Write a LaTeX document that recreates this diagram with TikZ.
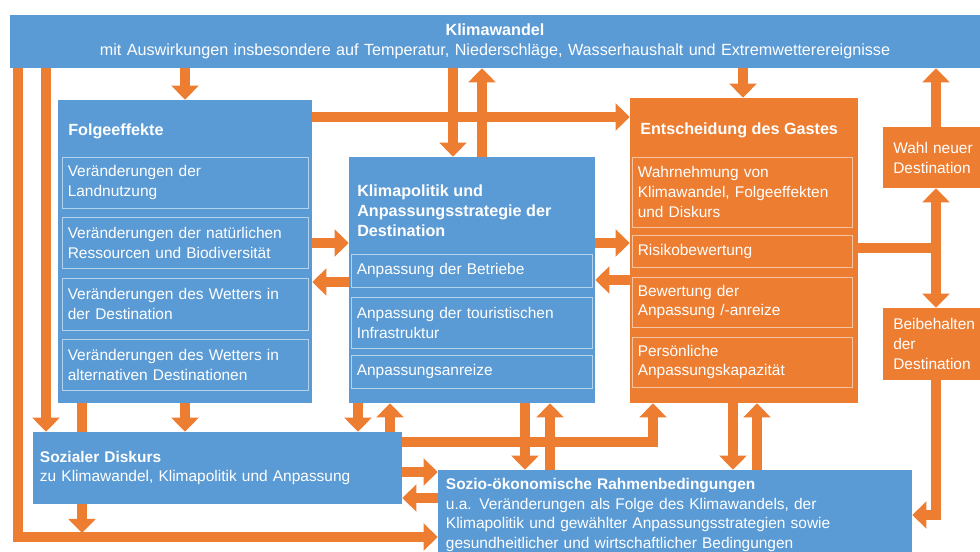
\documentclass[tikz,border=0pt]{standalone}
\usepackage{fontspec}
\setmainfont{Liberation Sans}
\usetikzlibrary{arrows.meta}

\definecolor{klimablue}{RGB}{91,155,213}
\definecolor{gastorange}{RGB}{237,125,49}

\tikzset{
    bluebox/.style={fill=klimablue, text=white, inner sep=0pt, inner xsep=0.15cm, align=left,
        font=\fontsize{11pt}{14.2pt}\selectfont},
    orangebox/.style={bluebox, fill=gastorange},
    subblue/.style={bluebox, draw=klimablue!45!white, line width=0.7pt, inner xsep=0.12cm},
    suborange/.style={orangebox, draw=gastorange!45!white, line width=0.7pt, inner xsep=0.12cm},
    boxtitle/.style={text=white, inner sep=0pt, align=left, anchor=west,
        font=\fontsize{11.5pt}{14.2pt}\selectfont\bfseries},
    flow/.style={draw=gastorange, line width=7pt},
    arr/.style={flow, -{Triangle[width=19pt,length=10pt]}}
}

\begin{document}
\begin{tikzpicture}[x=0.025cm, y=-0.025cm]
        \useasboundingbox (0,0) rectangle (980,552);

        \node[bluebox, align=center, text width=23.95cm, minimum height=1.325cm,
            font=\fontsize{11.5pt}{14.2pt}\selectfont] (klima) at (495,41.5)
            {\textbf{Klimawandel}\\mit Auswirkungen insbesondere auf Temperatur, Niederschläge, Wasserhaushalt und Extremwetterereignisse};

        \node[bluebox, minimum width=6.35cm, minimum height=7.575cm] (folge) at (185,251.5) {};
        \node[boxtitle] (folgetitle) at (68,131) {Folgeeffekte};
        \node[subblue, text width=5.885cm, minimum height=1.275cm] (f1) at (185.5,182.5) {Veränderungen der\\Landnutzung};
        \node[subblue, text width=5.885cm, minimum height=1.275cm] (f2) at (185.5,242.5) {Veränderungen der natürlichen\\Ressourcen und Biodiversität};
        \node[subblue, text width=5.885cm, minimum height=1.3cm] (f3) at (185.5,304) {Veränderungen des Wetters in\\der Destination};
        \node[subblue, text width=5.885cm, minimum height=1.275cm] (f4) at (185.5,364.5) {Veränderungen des Wetters in\\alternativen Destinationen};

        \node[bluebox, minimum width=6.15cm, minimum height=6.15cm] (kpol) at (472,280) {};
        \node[boxtitle] (kpoltitle) at (357,210.5) {Klimapolitik und\\Anpassungsstrategie der\\Destination};
        \node[subblue, text width=5.76cm, minimum height=0.825cm] (k1) at (472,270.5) {Anpassung der Betriebe};
        \node[subblue, text width=5.76cm, minimum height=1.275cm] (k2) at (472,322.5) {Anpassung der touristischen\\Infrastruktur};
        \node[subblue, text width=5.76cm, minimum height=0.825cm] (k3) at (472,371.5) {Anpassungsanreize};

        \node[orangebox, minimum width=5.7cm, minimum height=7.625cm] (gast) at (744,250.5) {};
        \node[boxtitle] (gasttitle) at (640,130) {Entscheidung des Gastes};
        \node[suborange, text width=5.235cm, minimum height=1.75cm] (g1) at (742.5,192) {Wahrnehmung von\\Klimawandel, Folgeeffekten\\und Diskurs};
        \node[suborange, text width=5.235cm, minimum height=0.8cm] (g2) at (742.5,251) {Risikobewertung};
        \node[suborange, text width=5.235cm, minimum height=1.25cm] (g3) at (742.5,302) {Bewertung der\\Anpassung /-anreize};
        \node[suborange, text width=5.235cm, minimum height=1.25cm] (g4) at (742.5,362) {Persönliche\\Anpassungskapazität};

        \node[orangebox, anchor=west, inner xsep=0.25cm, text width=2.15cm, minimum height=1.525cm] (wahl) at (883,157.5) {Wahl neuer\\Destination};
        \node[orangebox, anchor=west, inner xsep=0.25cm, text width=2.15cm, minimum height=1.8cm] (beib) at (883,344) {Beibehalten\\der\\Destination};

        \node[bluebox, inner xsep=0.175cm, text width=8.875cm, minimum height=1.8cm] (sozd) at (217.5,468)
            {\textbf{Sozialer Diskurs}\\zu Klimawandel, Klimapolitik und Anpassung};
        \node[bluebox, inner xsep=0.2cm, text width=11.45cm, minimum height=2.25cm] (sozoek) at (675,515)
            {\textbf{Sozio-ökonomische Rahmenbedingungen}\\u.a. Veränderungen als Folge des Klimawandels, der\\Klimapolitik und gewählter Anpassungsstrategien sowie\\gesundheitlicher und wirtschaftlicher Bedingungen};

        \coordinate (split) at (936,248);
        \coordinate (diskend) at (82,533);

        \draw[arr] (klima.south -| folge.north) -- (folge.north);
        \draw[arr] (klima.south -| 453,0) -- (kpol.north -| 453,0);
        \draw[arr] (kpol.north -| 482,0) -- (klima.south -| 482,0);
        \draw[arr] (klima.south -| 743,0) -- (gast.north -| 743,0);
        \draw[arr] (wahl.north -| split) -- (klima.south -| split);

        \draw[arr] (folge.east |- 0,117) -- (gast.west |- 0,117);
        \draw[arr] (folge.east |- 0,243) -- (kpol.west |- 0,243);
        \draw[arr] (kpol.west |- 0,282) -- (folge.east |- 0,282);
        \draw[arr] (kpol.east |- 0,243) -- (gast.west |- 0,243);
        \draw[arr] (gast.west |- 0,280) -- (kpol.east |- 0,280);

        \draw[flow] (gast.east |- split) -- ([xshift=3.5pt]split);
        \draw[arr] (split) -- (wahl.south -| split);
        \draw[arr] (split) -- (beib.north -| split);
        \draw[arr] (beib.south -| split) |- (sozoek.east |- 0,515);

        \draw[arr] (klima.south -| 18,0) |- (sozoek.west |- 0,537);
        \draw[arr] (klima.south -| 46,0) -- (sozd.north -| 46,0);
        \draw[flow] (folge.south -| 82,0) -- (sozd.north -| 82,0);
        \draw[arr] (folge.south) -- (sozd.north -| folge.south);
        \draw[arr] (kpol.south -| 358,0) -- (sozd.north -| 358,0);
        \draw[arr] (sozd.north -| 390,0) -- (kpol.south -| 390,0);
        \draw[arr] (sozd.south -| diskend) -- (diskend);

        \draw[arr] (sozd.east |- 0,442) -| (gast.south -| 653,0);
        \draw[arr] (sozd.east |- 0,472) -- (sozoek.west |- 0,472);
        \draw[arr] (sozoek.west |- 0,498) -- (sozd.east |- 0,498);
        \draw[arr] (kpol.south -| 525,0) -- (sozoek.north -| 525,0);
        \draw[arr] (sozoek.north -| 550,0) -- (kpol.south -| 550,0);
        \draw[arr] (gast.south -| 733,0) -- (sozoek.north -| 733,0);
        \draw[arr] (sozoek.north -| 757,0) -- (gast.south -| 757,0);

    \end{tikzpicture}
\end{document}
